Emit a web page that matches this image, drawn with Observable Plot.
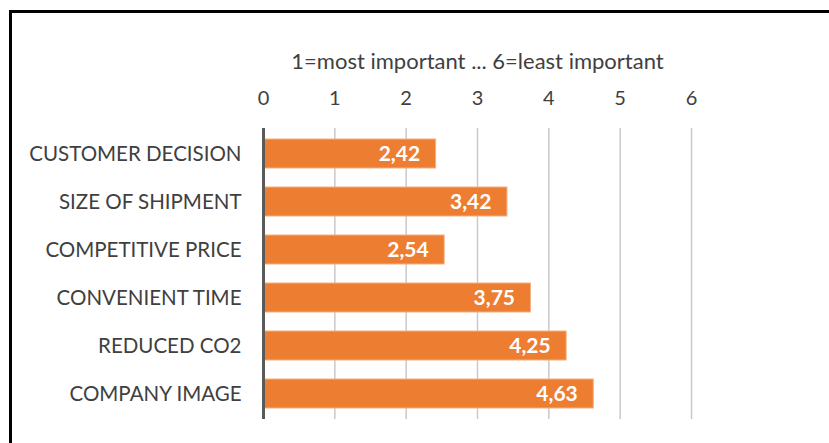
<!DOCTYPE html>
<html><head><meta charset="utf-8">
<script src="https://cdn.jsdelivr.net/npm/d3@7"></script>
<script src="https://cdn.jsdelivr.net/npm/@observablehq/plot@0.6"></script>
<style>
html,body{margin:0;padding:0;background:#fff;}
#wrap{position:relative;width:829px;height:443px;overflow:hidden;}
#frame{position:absolute;left:9px;top:10px;width:830px;height:450px;border-top:3px solid #000;border-left:3px solid #000;pointer-events:none;}
</style></head>
<body><div id="wrap"><div id="chart"></div><div id="frame"></div></div>
<script>
const categories = ["CUSTOMER DECISION","SIZE OF SHIPMENT","COMPETITIVE PRICE","CONVENIENT TIME","REDUCED CO2","COMPANY IMAGE"];
const values = [2.42, 3.42, 2.54, 3.75, 4.25, 4.63];
const valueLabels = ["2,42","3,42","2,54","3,75","4,25","4,63"];
const xTicks = [0,1,2,3,4,5,6];
const axisTitle = "1=most important ... 6=least important";

const data = categories.map((c,i)=>({cat:c, v:values[i], lab:valueLabels[i]}));
const font = "Lato, 'Open Sans', sans-serif";

const plot = Plot.plot({
  width: 829, height: 443,
  marginLeft: 263, marginRight: 138, marginTop: 128, marginBottom: 24,
  style: {fontFamily: font, fontSize: "20px", color: "#404040", background: "#fff"},
  x: {domain: [0,6], ticks: xTicks, axis: null},
  y: {domain: categories, paddingInner: 0.4, paddingOuter: 0.2, axis: null},
  marks: [
    Plot.ruleX(xTicks.filter(t=>t>0), {stroke: "#c9c9c9", strokeWidth: 1.5}),
    Plot.barX(data, {x: "v", y: "cat", fill: "#ED7D31", stroke: "#F4B183", strokeWidth: 1}),
    Plot.text(data, {x: "v", y: "cat", text: "lab", textAnchor: "end", dx: -16, fill: "#fff", fontWeight: "bold", fontSize: 21}),
    Plot.ruleX([0], {stroke: "#595959", strokeWidth: 3}),
    Plot.axisY({tickSize: 0, tickPadding: 22, fontSize: 20.5, label: null}),
    Plot.axisX({anchor: "top", ticks: xTicks, tickSize: 0, tickPadding: 24, fontSize: 20, label: null, tickFormat: d=>String(d)}),
    Plot.text([axisTitle], {frameAnchor: "top", dy: -75, fontSize: 22, fill: "#404040"})
  ]
});
document.getElementById("chart").appendChild(plot);
</script></body></html>
